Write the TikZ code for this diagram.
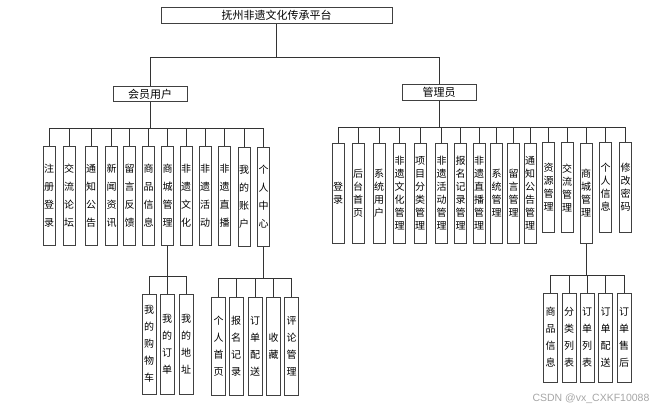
\documentclass[tikz,border=0pt]{standalone}
\usepackage{fontspec}
\usepackage{tikz}
\usetikzlibrary{calc,backgrounds}
\newfontfamily\cjk{Noto Sans CJK SC}
\newfontfamily\wmfont{Liberation Sans}
\pgfdeclarelayer{edgelayer}
\pgfdeclarelayer{nodelayer}
\pgfsetlayers{background,edgelayer,nodelayer,main}
\tikzstyle{none}=[inner sep=0mm]
\tikzstyle{head}=[draw=black!75,line width=1pt,fill=white,inner sep=0pt,minimum height=16pt,font=\cjk\fontsize{11}{13}\selectfont]
\tikzstyle{leaf}=[draw=black!75,line width=1pt,fill=white,inner sep=0pt,minimum width=12pt,align=center]
\tikzstyle{ml}=[leaf,minimum height=98pt,font=\cjk\fontsize{10}{18}\selectfont]
\tikzstyle{al}=[leaf,minimum height=99pt,font=\cjk\fontsize{10}{13}\selectfont]
\tikzstyle{sl}=[leaf,minimum width=14pt,font=\cjk\fontsize{10}{17}\selectfont]
\tikzstyle{link}=[draw=black!80,line width=0.9pt]
\tikzstyle{wm}=[inner sep=0pt,text=black!35,font=\wmfont\fontsize{10.5}{12}\selectfont]

\begin{document}
\begin{tikzpicture}[x=1pt,y=-1pt]
	\useasboundingbox (0,0) rectangle (666,414);
	\begin{pgfonlayer}{nodelayer}
		\node [style=head, minimum width=231pt] (root) at (276.5, 15.5) {抚州非遗文化传承平台};
		\node [style=head, minimum width=74pt, minimum height=15pt] (member) at (150, 94.5) {会员用户};
		\node [style=head, minimum width=74pt] (admin) at (439, 92.5) {管理员};
		% member row
		\node [style=ml] (m1) at (49, 196) {注\\册\\登\\录};
		\node [style=ml] (m2) at (69, 196) {交\\流\\论\\坛};
		\node [style=ml] (m3) at (91, 196) {通\\知\\公\\告};
		\node [style=ml] (m4) at (111.5, 196) {新\\闻\\资\\讯};
		\node [style=ml] (m5) at (129.5, 196) {留\\言\\反\\馈};
		\node [style=ml] (m6) at (148.5, 196) {商\\品\\信\\息};
		\node [style=ml] (m7) at (167.5, 196) {商\\城\\管\\理};
		\node [style=ml] (m8) at (186, 196) {非\\遗\\文\\化};
		\node [style=ml] (m9) at (205, 196) {非\\遗\\活\\动};
		\node [style=ml] (m10) at (224.5, 196) {非\\遗\\直\\播};
		\node [style=ml] (m11) at (244, 197) {我\\的\\账\\户};
		\node [style=ml] (m12) at (263.5, 197) {个\\人\\中\\心};
		% admin row
		\node [style=al] (a1) at (338, 193.5) {登\\录};
		\node [style=al] (a2) at (358, 193.5) {后\\台\\首\\页};
		\node [style=al] (a3) at (379, 193.5) {系\\统\\用\\户};
		\node [style=al] (a4) at (399.5, 193.5) {非\\遗\\文\\化\\管\\理};
		\node [style=al] (a5) at (420, 193.5) {项\\目\\分\\类\\管\\理};
		\node [style=al] (a6) at (441.5, 193.5) {非\\遗\\活\\动\\管\\理};
		\node [style=al] (a7) at (460.5, 193.5) {报\\名\\记\\录\\管\\理};
		\node [style=al] (a8) at (479, 193.5) {非\\遗\\直\\播\\管\\理};
		\node [style=al] (a9) at (496.5, 193.5) {系\\统\\管\\理};
		\node [style=al] (a10) at (513.5, 193.5) {留\\言\\管\\理};
		\node [style=al] (a11) at (530, 193.5) {通\\知\\公\\告\\管\\理};
		\node [style=al, minimum height=89pt] (a12) at (548.5, 187.5) {资\\源\\管\\理};
		\node [style=al, minimum height=89pt] (a13) at (567, 187.5) {交\\流\\管\\理};
		\node [style=al] (a14) at (586, 193.5) {商\\城\\管\\理};
		\node [style=al, minimum height=89pt] (a15) at (605.5, 187.5) {个\\人\\信\\息};
		\node [style=al, minimum height=89pt] (a16) at (625.5, 187.5) {修\\改\\密\\码};
		% member shop
		\node [style=sl, minimum height=100pt] (ms1) at (149, 344) {我\\的\\购\\物\\车};
		\node [style=sl, minimum height=100pt] (ms2) at (167, 344) {我\\的\\订\\单};
		\node [style=sl, minimum height=100pt] (ms3) at (186, 344) {我\\的\\地\\址};
		% member centre
		\node [style=sl, minimum height=98pt] (mp1) at (218.5, 346) {个\\人\\首\\页};
		\node [style=sl, minimum height=98pt] (mp2) at (236, 346) {报\\名\\记\\录};
		\node [style=sl, minimum height=98pt] (mp3) at (255, 346) {订\\单\\配\\送};
		\node [style=sl, minimum height=98pt] (mp4) at (273.5, 346) {收\\藏};
		\node [style=sl, minimum height=98pt] (mp5) at (291.5, 346) {评\\论\\管\\理};
		% admin shop
		\node [style=sl, minimum height=89pt] (as1) at (550.5, 337.5) {商\\品\\信\\息};
		\node [style=sl, minimum height=89pt] (as2) at (569, 337.5) {分\\类\\列\\表};
		\node [style=sl, minimum height=89pt] (as3) at (587, 337.5) {订\\单\\列\\表};
		\node [style=sl, minimum height=89pt] (as4) at (605.5, 337.5) {订\\单\\配\\送};
		\node [style=sl, minimum height=89pt] (as5) at (624, 337.5) {订\\单\\售\\后};
		\node [style=wm] (mark) at (591, 399) {CSDN @vx\_CXKF10088};
	\end{pgfonlayer}
	\begin{pgfonlayer}{edgelayer}
		\coordinate (topbus) at (276.5, 57);
		\coordinate (mbus) at (150, 128);
		\coordinate (abus) at (439, 127);
		\coordinate (msbus) at (167.5, 276);
		\coordinate (mpbus) at (263.5, 278);
		\coordinate (asbus) at (586, 275);
		\draw [style=link] (root) -- (topbus);
		\draw [style=link] (topbus) -| (member);
		\draw [style=link] (topbus) -| (admin);
		\draw [style=link] (member) -- (mbus);
		\foreach \n in {1,...,12}
			\draw [style=link] (mbus) -| (m\n);
		\draw [style=link] (admin) -- (abus);
		\foreach \n in {1,...,16}
			\draw [style=link] (abus) -| (a\n);
		\draw [style=link] (m7) -- (msbus);
		\foreach \n in {1,2,3}
			\draw [style=link] (msbus) -| (ms\n);
		\draw [style=link] (m12) -- (mpbus);
		\foreach \n in {1,...,5}
			\draw [style=link] (mpbus) -| (mp\n);
		\draw [style=link] (a14) -- (asbus);
		\foreach \n in {1,...,5}
			\draw [style=link] (asbus) -| (as\n);
	\end{pgfonlayer}
\end{tikzpicture}
\end{document}
